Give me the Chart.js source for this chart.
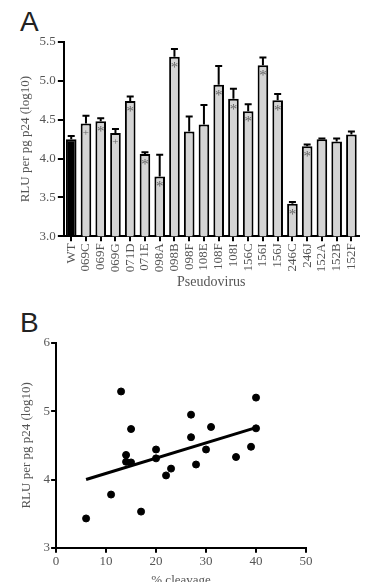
<!DOCTYPE html>
<html>
<head>
<meta charset="utf-8">
<script src="https://cdn.jsdelivr.net/npm/chart.js@4"></script>
<style>
  html, body { margin: 0; padding: 0; background: #fff; overflow: hidden; }
  body { width: 369px; height: 582px; position: relative; }
  .panel { position: absolute; left: 0; width: 369px; }
  .letter { position: absolute; font-family: "Liberation Sans", Arial, sans-serif; font-size: 28px; color: #222; }
</style>
</head>
<body>
<div class="letter" style="left:20px;top:6px;">A</div>
<div class="panel" style="top:0;height:295px;"><canvas id="chart-a"></canvas></div>
<div class="letter" style="left:20px;top:307px;">B</div>
<div class="panel" style="top:295px;height:293px;"><canvas id="chart-b"></canvas></div>
<script>
// datos del panel A
const virus = ['WT', '069C', '069F', '069G', '071D', '071E', '098A', '098B', '098F', '108E',
  '108F', '108I', '156C', '156I', '156J', '246C', '246J', '152A', '152B', '152F']
const rluMean = [4.25, 4.45, 4.48, 4.33, 4.74, 4.06, 3.77, 5.31, 4.35, 4.44,
  4.95, 4.77, 4.61, 5.20, 4.75, 3.42, 4.16, 4.25, 4.22, 4.31]
const rluTop = [4.29, 4.55, 4.52, 4.38, 4.80, 4.08, 4.05, 5.41, 4.54, 4.69,
  5.19, 4.90, 4.70, 5.30, 4.83, 3.44, 4.18, 4.26, 4.26, 4.35]
const signif = ['', '+', '*', '+', '*', '*', '*', '*', '', '',
  '*', '*', '*', '*', '*', '*', '*', '', '', '']
const yTicksA = [3.0, 3.5, 4.0, 4.5, 5.0, 5.5]

// datos del panel B
const cleavage = [6, 11, 13, 14, 14, 15, 15, 17, 20, 20, 22, 23, 27, 27, 28, 30, 31, 36, 39, 40, 40]
const rluPoints = [3.43, 3.78, 5.29, 4.36, 4.26, 4.25, 4.74, 3.53, 4.44, 4.31, 4.06, 4.16,
  4.95, 4.62, 4.22, 4.44, 4.77, 4.33, 4.48, 5.20, 4.75]
const fitX = [6, 40]
const fitY = [4.0, 4.76]

const serif = '"Liberation Serif", "Times New Roman", serif'
const gray = '#555'

// barras de error y asteriscos
const errorBars = {
  id: 'errorBars',
  afterDatasetsDraw(chart) {
    const ctx = chart.ctx
    const y = chart.scales.y
    const meta = chart.getDatasetMeta(0)
    ctx.save()
    ctx.strokeStyle = '#000'
    ctx.lineWidth = 2
    meta.data.forEach((bar, i) => {
      const top = y.getPixelForValue(rluTop[i])
      ctx.beginPath()
      ctx.moveTo(bar.x, bar.y)
      ctx.lineTo(bar.x, top)
      ctx.moveTo(bar.x - 3.5, top)
      ctx.lineTo(bar.x + 3.5, top)
      ctx.stroke()
      if (signif[i]) {
        ctx.fillStyle = '#666'
        ctx.font = (signif[i] === '*' ? '15px ' : '11px ') + serif
        ctx.textAlign = 'center'
        ctx.textBaseline = 'middle'
        ctx.fillText(signif[i], bar.x, bar.y + (signif[i] === '*' ? 11 : 9))
      }
    })
    ctx.restore()
  }
}

window.addEventListener('load', () => {
  new Chart(document.getElementById('chart-a'), {
    type: 'bar',
    data: {
      labels: virus,
      datasets: [{
        data: rluMean,
        backgroundColor: virus.map(v => v === 'WT' ? '#000' : '#d4d4d4'),
        borderColor: '#000',
        borderWidth: 2,
        borderSkipped: false,
        categoryPercentage: 1,
        barPercentage: 0.72
      }]
    },
    options: {
      responsive: true,
      maintainAspectRatio: false,
      animation: false,
      layout: { padding: { top: 42, right: 0, left: 18, bottom: 4 } },
      plugins: { legend: { display: false }, tooltip: { enabled: false } },
      scales: {
        y: {
          min: 3, max: 5.5,
          afterBuildTicks: axis => { axis.ticks = yTicksA.map(v => ({ value: v })) },
          border: { color: '#000', width: 2 },
          grid: { drawOnChartArea: false, color: '#000', lineWidth: 2, tickLength: 6 },
          ticks: {
            color: gray, padding: 2,
            font: { family: serif, size: 13 },
            callback: v => Number(v).toFixed(1)
          },
          title: {
            display: true, text: 'RLU per pg p24 (log10)', color: gray,
            font: { family: serif, size: 13 }, padding: { top: 0, bottom: 4 }
          }
        },
        x: {
          border: { color: '#000', width: 2 },
          grid: { drawOnChartArea: false, offset: false, color: '#000', lineWidth: 2, tickLength: 5 },
          ticks: {
            color: gray, padding: 2, minRotation: 90, maxRotation: 90, autoSkip: false,
            font: { family: serif, size: 13 }
          },
          title: {
            display: true, text: 'Pseudovirus', color: gray,
            font: { family: serif, size: 14 }, padding: { top: 0, bottom: 0 }
          }
        }
      }
    },
    plugins: [errorBars]
  })

  new Chart(document.getElementById('chart-b'), {
    type: 'scatter',
    data: {
      datasets: [{
        data: cleavage.map((c, i) => ({ x: c, y: rluPoints[i] })),
        backgroundColor: '#000',
        borderColor: '#000',
        pointRadius: 3.5
      }, {
        data: fitX.map((c, i) => ({ x: c, y: fitY[i] })),
        showLine: true,
        borderColor: '#000',
        borderWidth: 3,
        pointRadius: 0
      }]
    },
    options: {
      responsive: true,
      maintainAspectRatio: false,
      animation: false,
      layout: { padding: { top: 48, right: 63, left: 19, bottom: 0 } },
      plugins: { legend: { display: false }, tooltip: { enabled: false } },
      scales: {
        y: {
          min: 3, max: 6,
          border: { color: '#000', width: 2 },
          grid: { drawOnChartArea: false, color: '#000', lineWidth: 2, tickLength: 5 },
          ticks: { stepSize: 1, color: gray, padding: 1, font: { family: serif, size: 13 } },
          title: {
            display: true, text: 'RLU per pg p24 (log10)', color: gray,
            font: { family: serif, size: 13 }, padding: { top: 0, bottom: 8 }
          }
        },
        x: {
          min: 0, max: 50,
          border: { color: '#000', width: 2 },
          grid: { drawOnChartArea: false, color: '#000', lineWidth: 2, tickLength: 5 },
          ticks: { stepSize: 10, color: gray, padding: 1, font: { family: serif, size: 13 } },
          title: {
            display: true, text: '% cleavage', color: gray,
            font: { family: serif, size: 13 }, padding: { top: 2, bottom: 0 }
          }
        }
      }
    }
  })
})
</script>
</body>
</html>
